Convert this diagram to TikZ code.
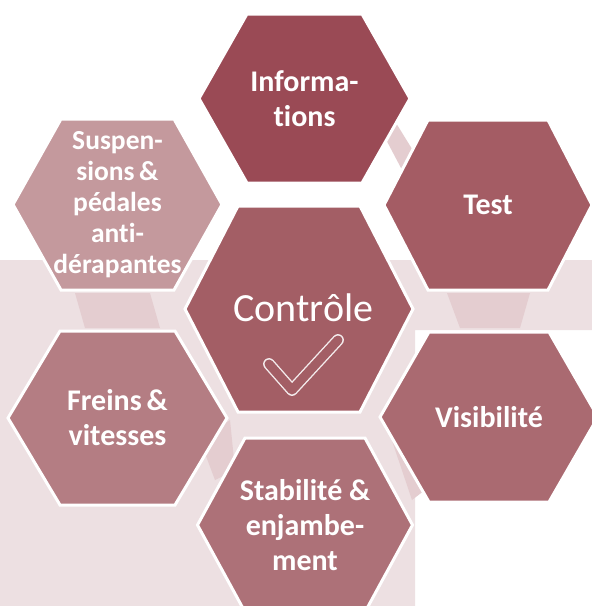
\documentclass[tikz,border=0pt]{standalone}
\usepackage{fontspec}
\setmainfont[RawFeature={-liga;-dlig;-clig}]{Carlito}
\definecolor{bgpink}{HTML}{EDE0E2}
\definecolor{ghost}{HTML}{E4CDD0}
\definecolor{cInfo}{HTML}{9A4A55}
\definecolor{cTest}{HTML}{A45C64}
\definecolor{cCtrl}{HTML}{A35E65}
\definecolor{cSusp}{HTML}{C4999D}
\definecolor{cFrein}{HTML}{B47D83}
\definecolor{cVis}{HTML}{AA6A71}
\definecolor{cStab}{HTML}{AD7178}
\newcommand\hexa[8]{%
  \path[fill=#6, draw=white, line width=3pt, line join=miter]
    (#1-#3,#2) -- (#1-#4,#2-#5) -- (#1+#4,#2-#5) -- (#1+#3,#2)
    -- (#1+#4,#2+#5) -- (#1-#4,#2+#5) -- cycle;
  \node[lbl] (#7) at (#1,#2) {#8};}
\begin{document}
\begin{tikzpicture}[x=1pt,y=-1pt,
  lbl/.style={text=white, align=center, inner sep=0pt,
    font=\bfseries\fontsize{30}{35}\selectfont},
  lblsmall/.style={lbl, font=\bfseries\fontsize{27.5}{31}\selectfont},
  ghostshape/.style={fill=ghost}]
\useasboundingbox (0,0) rectangle (592,606);
\fill[white] (0,0) rectangle (592,606);
% background band
\fill[bgpink] (0,260) -- (592,260) -- (592,330) -- (415,330) -- (415,606) -- (0,606) -- cycle;
% faint ghost shapes in the gaps
\fill[ghostshape] (372,113) -- (388,110) -- (425,170) -- (410,185) -- cycle;
\fill[ghostshape] (447,293) -- (530,293) -- (520,328) -- (460,328) -- cycle;
\fill[ghostshape] (75,293) -- (150,293) -- (160,328) -- (85,328) -- cycle;
\fill[ghostshape] (385,420) -- (400,418) -- (425,490) -- (412,500) -- cycle;
\fill[ghostshape] (200,440) -- (230,420) -- (235,470) -- (215,480) -- cycle;
% hexagons
\hexa{304.5}{98.5}{105.5}{57.5}{84.5}{cInfo}{info}{Informa-\\tions}
\hexa{488}{205}{104}{60}{85}{cTest}{test}{Test}
\hexa{117.5}{204.5}{104.5}{56.5}{85.5}{cSusp}{susp}{}
\node[lblsmall] (susptext) at (117.5,204.5) {Suspen-\\sions\,\&\\pédales\\anti-\\dérapantes};
\hexa{299}{309}{114}{61}{103}{cCtrl}{ctrl}{}
\node[text=white, font=\fontsize{40}{46}\selectfont, anchor=base, inner sep=0pt] (ctrltext) at (303.5,321) {Contrôle};
\coordinate (ckA) at (269,364);
\coordinate (ckB) at (292,390);
\coordinate (ckC) at (338,340);
\draw[draw=white!88!cCtrl, line width=1.4pt, double=cCtrl, double distance=9pt,
      line cap=round, line join=round] (ckA) -- (ckB) -- (ckC);
\hexa{117.5}{418}{109.5}{57.5}{87}{cFrein}{frein}{Freins\,\&\\vitesses}
\hexa{489}{417}{109}{60}{85}{cVis}{vis}{Visibilité}
\hexa{305}{525}{107.5}{60}{87}{cStab}{stab}{Stabilité \&\\enjambe-\\ment}
\end{tikzpicture}
\end{document}
